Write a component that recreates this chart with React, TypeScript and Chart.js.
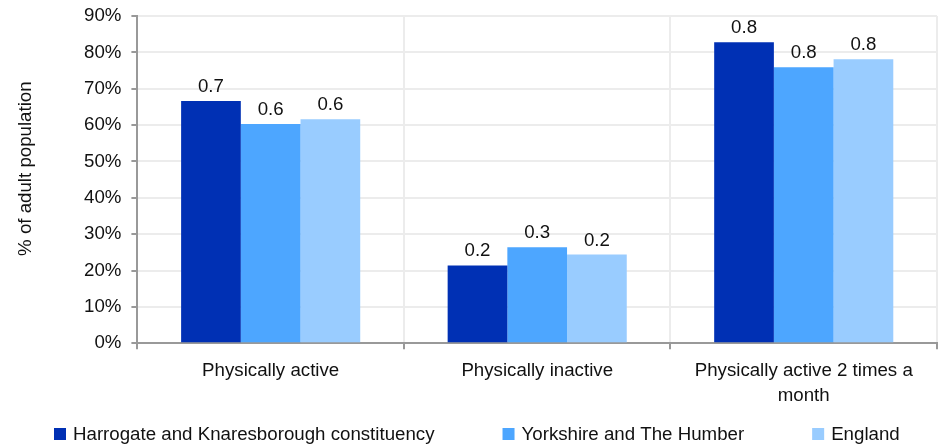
import React, { useEffect, useRef } from "react";
import { Chart, registerables } from "chart.js";

Chart.register(...registerables);

const categories: (string | string[])[] = [
  "Physically active",
  "Physically inactive",
  ["Physically active 2 times a", "month"],
];
const harrogate = [0.666, 0.214, 0.828];
const yorkshire = [0.603, 0.264, 0.759];
const england = [0.616, 0.244, 0.781];
const seriesNames = [
  "Harrogate and Knaresborough constituency",
  "Yorkshire and The Humber",
  "England",
];
const yTitle = "% of adult population";
const colors = ["#0030B4", "#4DA6FF", "#99CCFF"];

const FONT = "'Liberation Sans', Arial, sans-serif";
const FS = 18.7;

const labelPlugin = {
  id: "barLabels",
  afterDatasetsDraw(chart: any) {
    const ctx = chart.ctx;
    ctx.save();
    ctx.font = `${FS}px ${FONT}`;
    ctx.fillStyle = "#111";
    ctx.textAlign = "center";
    ctx.textBaseline = "alphabetic";
    chart.data.datasets.forEach((ds: any, i: number) => {
      const meta = chart.getDatasetMeta(i);
      meta.data.forEach((bar: any, j: number) => {
        const v = ds.data[j] as number;
        ctx.fillText(v.toFixed(1), bar.x, bar.y - 9);
      });
    });
    ctx.restore();
  },
  afterDraw(chart: any) {
    const ctx = chart.ctx;
    const area = chart.chartArea;
    ctx.save();
    ctx.font = `${FS}px ${FONT}`;
    ctx.fillStyle = "#111";
    // y-axis title
    ctx.save();
    ctx.translate(26, (area.top + area.bottom) / 2 - 11);
    ctx.rotate(-Math.PI / 2);
    ctx.textAlign = "center";
    ctx.textBaseline = "middle";
    ctx.fillText(yTitle, 0, 0);
    ctx.restore();
    // legend
    ctx.textAlign = "left";
    ctx.textBaseline = "middle";
    const cy = 434;
    let x = 54;
    seriesNames.forEach((name, i) => {
      ctx.fillStyle = colors[i];
      ctx.fillRect(x, cy - 6, 12, 12);
      ctx.fillStyle = "#111";
      ctx.fillText(name, x + 19, cy + 1);
      x += 19 + ctx.measureText(name).width + 68;
    });
    ctx.restore();
  },
};

export default function App() {
  const ref = useRef<HTMLCanvasElement>(null);
  useEffect(() => {
    if (!ref.current) return;
    const chart = new Chart(ref.current, {
      type: "bar",
      data: {
        labels: categories,
        datasets: [harrogate, yorkshire, england].map((d, i) => ({
          label: seriesNames[i],
          data: d,
          backgroundColor: colors[i],
          borderWidth: 0,
          categoryPercentage: 0.672,
          barPercentage: 1,
        })),
      },
      options: {
        animation: false,
        responsive: false,
        maintainAspectRatio: false,
        layout: { padding: { left: 74, right: 4, top: 16, bottom: 29 } },
        plugins: {
          tooltip: { enabled: false },
          legend: { display: false },
        },
        scales: {
          x: {
            offset: true,
            grid: {
              offset: true,
              color: "#ececec",
              lineWidth: 2,
              tickColor: "#999",
              tickLength: 6,
            },
            border: { color: "#999", width: 2 },
            ticks: {
              color: "#111",
              font: { family: FONT, size: FS, lineHeight: 1.33 },
              maxRotation: 0,
              padding: 9,
            },
          },
          y: {
            min: 0,
            max: 0.9,
            afterFit: (scale: any) => {
              scale.paddingTop = 0;
              scale.paddingBottom = 0;
            },
            grid: {
              color: "#ececec",
              lineWidth: 2,
              tickColor: "#999",
              tickLength: 6,
            },
            border: { color: "#999", width: 2 },
            ticks: {
              stepSize: 0.1,
              color: "#111",
              font: { family: FONT, size: FS },
              padding: 10,
              callback: (v: any) => `${Math.round(Number(v) * 100)}%`,
            },
          },
        },
      },
      plugins: [labelPlugin],
    });
    return () => chart.destroy();
  }, []);
  return (
    <div style={{ position: "fixed", left: 0, top: 0, width: 941, height: 446, background: "#fff" }}>
      <canvas ref={ref} width={941} height={446} />
    </div>
  );
}
